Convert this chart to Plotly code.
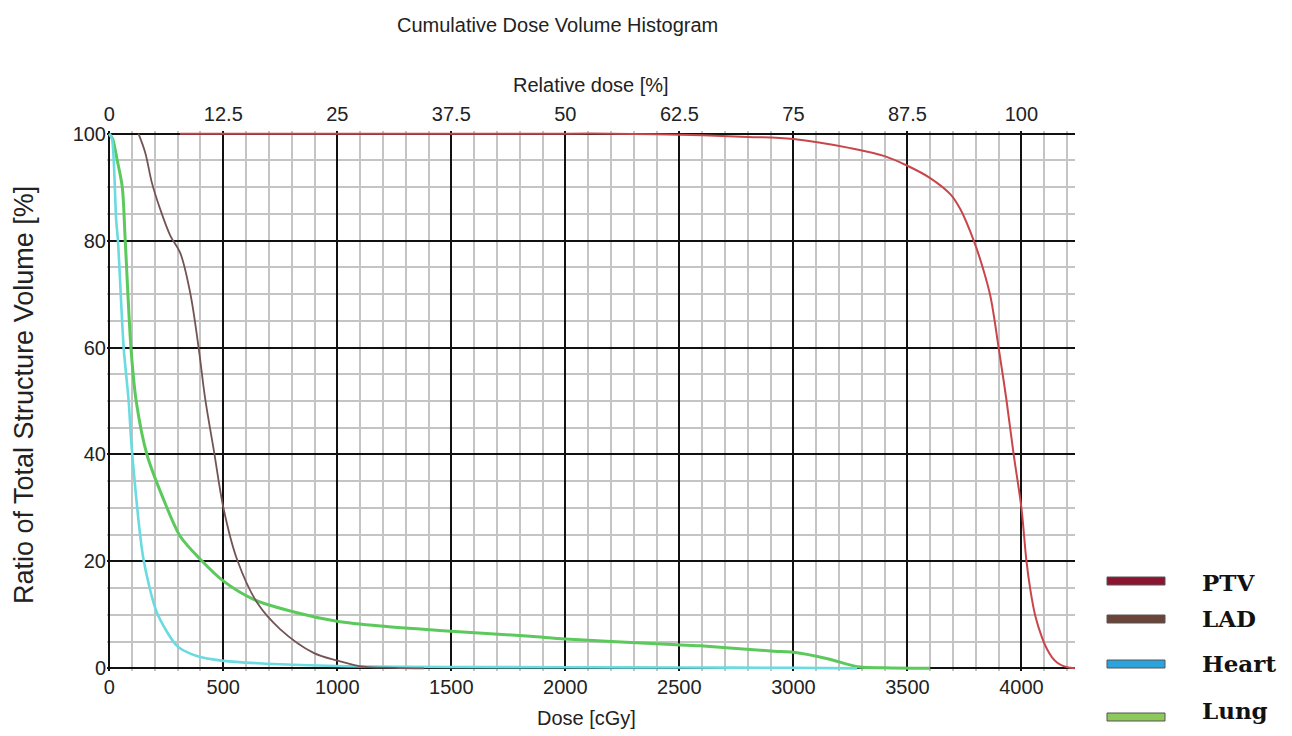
import plotly.graph_objects as go

# ---------------- data ----------------
ptv_dose = [310, 1000, 1500, 2000, 2200, 2500, 2800, 3000, 3250, 3400, 3500, 3600, 3690, 3733,
            3791, 3830, 3864, 3900, 3935, 3966, 4000, 4022, 4040, 4061, 4090, 4112, 4135, 4156, 4185, 4215, 4235]
ptv_vol = [100, 100, 100, 100, 100, 99.8, 99.4, 99.0, 97.3, 95.8, 94.0, 91.7, 88.6, 85.8,
           80.0, 75.0, 69.6, 60.0, 50.0, 40.0, 30.0, 20.1, 14.5, 9.8, 5.8, 3.6, 2.0, 1.1, 0.4, 0.1, 0]

lad_dose = [128, 158, 187, 224, 268, 311, 355, 392, 421, 458, 502, 560, 648, 750, 896, 1006, 1115, 1250, 1380]
lad_vol = [100, 96.4, 90.8, 85.8, 80.9, 77.7, 70.2, 59.9, 50.3, 40.9, 29.7, 20.4, 12.3, 7.3, 2.9, 1.4, 0.3, 0.1, 0]

heart_dose = [0, 12, 30, 38, 63, 85, 99, 150, 209, 297, 384, 501, 750, 1042, 1500, 2000, 2500, 3000, 3280]
heart_vol = [100, 99, 84, 80, 60, 50, 40.9, 20.4, 10.4, 4.2, 2.3, 1.4, 0.75, 0.4, 0.25, 0.2, 0.15, 0.1, 0]

lung_dose = [0, 15, 35, 57, 70, 95, 118, 165, 238, 311, 399, 501, 633, 823, 998, 1189, 1481, 1846, 2000,
             2446, 2592, 2914, 3000, 3150, 3281, 3400, 3600]
lung_vol = [100, 99, 95, 90, 80, 60, 50, 40, 31.6, 24.7, 20.4, 16.3, 12.9, 10.4, 8.8, 7.9, 7.0, 6.0, 5.5,
            4.5, 4.2, 3.2, 3.0, 1.8, 0.3, 0.1, 0]

dose_ticks = [0, 500, 1000, 1500, 2000, 2500, 3000, 3500, 4000]
rel_ticks = [0, 12.5, 25, 37.5, 50, 62.5, 75, 87.5, 100]
rel_labels = ["0", "12.5", "25", "37.5", "50", "62.5", "75", "87.5", "100"]
vol_ticks = [0, 20, 40, 60, 80, 100]
prescription_cgy = 4000  # 100 % relative dose

legend_labels = ["PTV", "LAD", "Heart", "Lung"]
legend_colors = ["#8b1530", "#6b4438", "#2ba3dd", "#8dc85a"]

# ---------------- figure ----------------
SANS = "Liberation Sans Narrow, Arial Narrow, Liberation Sans, Arial, sans-serif"
fig = go.Figure()

series = [
    ("Lung", lung_dose, lung_vol, "#5cc95c", 3.0, 0.8),
    ("Heart", heart_dose, heart_vol, "#6adbe0", 2.6, 0.7),
    ("LAD", lad_dose, lad_vol, "#735454", 1.8, 1.0),
    ("PTV", ptv_dose, ptv_vol, "#c8464b", 2.0, 1.0),
]
for name, xs, ys, col, w, sm in series:
    fig.add_trace(go.Scatter(x=xs, y=ys, mode="lines", name=name,
                             line=dict(color=col, width=w, shape="spline", smoothing=sm),
                             showlegend=False))

# invisible trace to carry the relative-dose axis
fig.add_trace(go.Scatter(x=rel_ticks, y=[None] * len(rel_ticks), xaxis="x2", mode="lines",
                         showlegend=False, hoverinfo="skip"))

# page is offset by the 8px body margin, so the figure is 8px smaller and margins shifted
OFF = 8
xmin, xmax = -10, 4235
fig.update_layout(
    width=1292 - OFF, height=736 - OFF, autosize=False,
    margin=dict(l=107 - OFF, r=217, t=131 - OFF, b=65),
    paper_bgcolor="white", plot_bgcolor="white",
    showlegend=False,
    xaxis=dict(range=[xmin, xmax], tickvals=dose_ticks, showgrid=True, gridcolor="#111111",
               gridwidth=2.2, zeroline=False, showline=False, automargin=False,
               ticks="", ticklabelstandoff=2,
               tickfont=dict(family=SANS, size=20, color="#222"),
               minor=dict(dtick=100, tick0=0, showgrid=True, gridcolor="#c4c4c4", gridwidth=1.5)),
    xaxis2=dict(range=[xmin / prescription_cgy * 100, xmax / prescription_cgy * 100],
                overlaying="x", side="top", anchor="y", tickvals=rel_ticks, ticktext=rel_labels,
                showgrid=False, zeroline=False, showline=False, automargin=False,
                ticks="", ticklabelstandoff=5,
                tickfont=dict(family=SANS, size=20, color="#222")),
    yaxis=dict(range=[-0.5, 100.5], tickvals=vol_ticks, showgrid=True, gridcolor="#111111",
               gridwidth=2.2, zeroline=False, showline=False, automargin=False,
               ticks="", ticklabelstandoff=0,
               tickfont=dict(family=SANS, size=20, color="#222"),
               minor=dict(dtick=5, tick0=0, showgrid=True, gridcolor="#c4c4c4", gridwidth=1.5)),
)

def px(x):
    return (x - 107) / 968

def py(y):
    return (671 - y) / 540

anns = [
    dict(text="Cumulative Dose Volume Histogram", x=px(557), y=py(25), font=dict(family=SANS, size=20, color="#222")),
    dict(text="Relative dose [%]", x=px(591), y=py(85), font=dict(family=SANS, size=20, color="#222")),
    dict(text="Dose [cGy]", x=px(586), y=py(718), font=dict(family=SANS, size=20, color="#222")),
    dict(text="Ratio of Total Structure Volume [%]", x=px(24), y=py(395), textangle=-90,
         font=dict(family="Liberation Sans, Arial, sans-serif", size=27, color="#222")),
]
for a in anns:
    fig.add_annotation(xref="paper", yref="paper", showarrow=False, xanchor="center", yanchor="middle", **a)

sw_y = [581, 619, 664, 717]
tx_y = [582, 618, 663, 711]
for lab, col, sy, ty in zip(legend_labels, legend_colors, sw_y, tx_y):
    fig.add_shape(type="rect", xref="paper", yref="paper", x0=px(1107), x1=px(1165),
                  y0=py(sy + 4), y1=py(sy - 4), fillcolor=col, line=dict(color="#555555", width=1))
    fig.add_annotation(xref="paper", yref="paper", showarrow=False, x=px(1200), y=py(ty),
                       xanchor="left", yanchor="middle", text="<b>%s</b>" % lab,
                       font=dict(family="DejaVu Serif, Liberation Serif, serif", size=23, color="#111"))

fig.write_html("out.html")
